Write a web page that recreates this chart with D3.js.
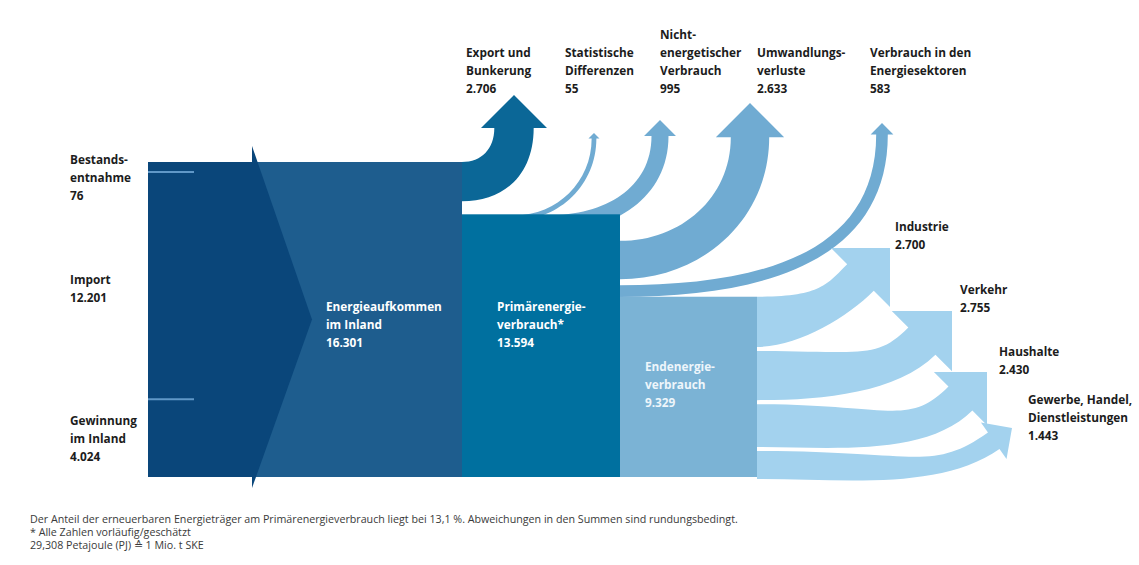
<!DOCTYPE html>
<html><head><meta charset="utf-8">
<script src="https://cdn.jsdelivr.net/npm/d3@7"></script>
<style>
body{margin:0;background:#fff;}
svg{display:block;font-family:"Open Sans","Noto Sans",sans-serif;}
</style></head><body>
<svg id="c" width="1139" height="565"></svg>
<script>
// ---------- DATA ----------
const sources = ["Bestandsentnahme", "Import", "Gewinnung im Inland"];
const sourceValues = [76, 12201, 4024];
const sourceLabels = [["Bestands-", "entnahme", "76"], ["Import", "12.201"], ["Gewinnung", "im Inland", "4.024"]];

const stages = ["Energieaufkommen im Inland", "Primärenergieverbrauch*", "Endenergieverbrauch"];
const stageValues = [16301, 13594, 9329];
const stageLabels = [["Energieaufkommen", "im Inland", "16.301"], ["Primärenergie-", "verbrauch*", "13.594"], ["Endenergie-", "verbrauch", "9.329"]];

const exportCategory = "Export und Bunkerung";
const exportValue = 2706;

const losses = ["Statistische Differenzen", "Nichtenergetischer Verbrauch", "Umwandlungsverluste", "Verbrauch in den Energiesektoren"];
const lossValues = [55, 995, 2633, 583];

const topLabels = [["Export und", "Bunkerung", "2.706"], ["Statistische", "Differenzen", "55"], ["Nicht-", "energetischer", "Verbrauch", "995"], ["Umwandlungs-", "verluste", "2.633"], ["Verbrauch in den", "Energiesektoren", "583"]];

const sectors = ["Industrie", "Verkehr", "Haushalte", "Gewerbe, Handel, Dienstleistungen"];
const sectorValues = [2700, 2755, 2430, 1443];
const sectorLabels = [["Industrie", "2.700"], ["Verkehr", "2.755"], ["Haushalte", "2.430"], ["Gewerbe, Handel,", "Dienstleistungen", "1.443"]];

const notes = [
  "Der Anteil der erneuerbaren Energieträger am Primärenergieverbrauch liegt bei 13,1 %. Abweichungen in den Summen sind rundungsbedingt.",
  "* Alle Zahlen vorläufig/geschätzt",
  "29,308 Petajoule (PJ) \u2259 1 Mio. t SKE"
];

// ---------- LAYOUT ----------
const X = {src0: 148, src1: 252, apex: 312, auf1: 462, pri1: 620, end1: 757};
const topArrowX = [514, 594, 660, 750, 882];
const topArrowTip = [95, 133, 120, 103, 123];
const topLabelPos = [[466, 57], [565, 57], [660, 39], [757, 57], [870, 57]];
const sectorTips = [[890, 248, 45], [952, 311, 45], [987, 372, 45], [1012, 428, 35]];
const sectorLabelPos = [[895, 231], [960, 294], [999, 356], [1028, 404]];
const sourceLabelPos = [[70, 164], [70, 284], [70, 425]];
const stageLabelPos = [[326, 311], [497, 311], [645, 371]];
const LH = 18;

const col = {navy: "#0a467a", auf: "#1e5d8e", pri: "#00709f", exp: "#0b6797",
  loss: "#70abd2", ende: "#7bb3d5", use: "#a3d2ee", sep: "#6098c8", text: "#1c1c1c"};

const svg = d3.select("#c");
const y = d3.scaleLinear().domain([0, stageValues[0]]).range([477, 162]);
const hgt = v => y(0) - y(v);
const wArrow = d3.scaleLinear().domain([0, 2755]).range([4, 40]);

function arrowPath(x0, yA, yB, Bx, By, theta, w, hw, hl, kaA, kaB, kb) {
  const t = theta * Math.PI / 180;
  const dir = [Math.cos(t), -Math.sin(t)], perp = [Math.sin(t), Math.cos(t)];
  const EA = [Bx - perp[0] * w / 2, By - perp[1] * w / 2];
  const EB = [Bx + perp[0] * w / 2, By + perp[1] * w / 2];
  function ctrl(S, E, ka) {
    const dx = Math.abs(E[0] - S[0]);
    const len = Math.hypot(E[0] - S[0], E[1] - S[1]);
    return [[S[0] + ka * dx, S[1]], [E[0] - dir[0] * kb * len, E[1] - dir[1] * kb * len]];
  }
  const SA = [x0, yA], SB = [x0, yB];
  const [a1, a2] = ctrl(SA, EA, kaA), [b1, b2] = ctrl(SB, EB, kaB);
  const barbA = [Bx - perp[0] * hw, By - perp[1] * hw];
  const barbB = [Bx + perp[0] * hw, By + perp[1] * hw];
  const tip = [Bx + dir[0] * hl, By + dir[1] * hl];
  const p = d3.path();
  p.moveTo(...SA);
  p.bezierCurveTo(...a1, ...a2, ...EA);
  p.lineTo(...barbA); p.lineTo(...tip); p.lineTo(...barbB); p.lineTo(...EB);
  p.bezierCurveTo(...b2, ...b1, ...SB);
  p.closePath();
  return p.toString();
}

const gArrows = svg.append("g");

// Export arrow (from Energieaufkommen top)
{
  const w = wArrow(exportValue), hw = 0.8 * w + 1.5;
  const top = y(stageValues[0]);
  gArrows.append("path").attr("fill", col.exp)
    .attr("d", arrowPath(X.auf1, top, top + w, topArrowX[0], topArrowTip[0] + hw, 90, w, hw, hw, 0.6, 0.6, 0.45));
}

// Loss arrows (from Primärenergieverbrauch)
{
  const pTop = y(stageValues[1]);
  let cum = stageValues[1];
  const slices = lossValues.map(v => { const s = {y0: y(cum), y1: y(cum - v)}; cum -= v; return s; });
  lossValues.forEach((v, i) => {
    const w = wArrow(v), hw = 0.85 * w + 1.5;
    let x0, yA;
    if (i < 2) { // emerge from behind the top edge of the block
      x0 = i === 0 ? 515 : 548;
      yA = pTop + 1;
    } else {
      x0 = X.pri1;
      const c = (slices[i].y0 + slices[i].y1) / 2;
      yA = c - w / 2;
    }
    gArrows.append("path").attr("fill", col.loss)
      .attr("d", arrowPath(x0, yA, yA + w, topArrowX[i + 1], topArrowTip[i + 1] + hw, 90, w, hw, hw, 0.55, 0.55, 0.4));
  });
}

// Sector arrows (from Endenergieverbrauch)
{
  let cum = stageValues[2];
  const items = sectorValues.map((v, i) => { const s = {v, i, y0: y(cum), y1: y(cum - v)}; cum -= v; return s; });
  items.slice().reverse().forEach(s => {
    const w = hgt(s.v) * 0.72, hw = 0.8 * hgt(s.v);
    const [tx, ty, th] = sectorTips[s.i];
    const t = th * Math.PI / 180;
    const Bx = tx - Math.cos(t) * hw, By = ty + Math.sin(t) * hw;
    const gapTop = s.i === 0 ? 0 : 2, gapBot = s.i === 3 ? -2 : 2;
    gArrows.append("path").attr("fill", col.use)
      .attr("d", arrowPath(X.end1, s.y0 + gapTop, s.y1 - gapBot, Bx, By, th, w, hw, hw, 0.7, 0.35, 0.3));
  });
}

// Blocks
const gBlocks = svg.append("g");
const top0 = y(stageValues[0]), bot = y(0);
gBlocks.append("rect").attr("x", X.src0).attr("y", top0).attr("width", X.auf1 - X.src0).attr("height", hgt(stageValues[0])).attr("fill", col.auf);
gBlocks.append("rect").attr("x", X.src0).attr("y", top0).attr("width", X.src1 - X.src0).attr("height", hgt(stageValues[0])).attr("fill", col.navy);
gBlocks.append("path").attr("fill", col.navy)
  .attr("d", `M${X.src1},${top0 - 16}L${X.apex},${(top0 + bot) / 2}L${X.src1},${bot + 11}Z`);
gBlocks.append("rect").attr("x", X.auf1).attr("y", y(stageValues[1])).attr("width", X.pri1 - X.auf1).attr("height", hgt(stageValues[1])).attr("fill", col.pri);
gBlocks.append("rect").attr("x", X.pri1).attr("y", y(stageValues[2])).attr("width", X.end1 - X.pri1).attr("height", hgt(stageValues[2])).attr("fill", col.ende);

// Source separators
{
  let cum = stageValues[0];
  sourceValues.slice(0, -1).forEach((v) => {
    cum -= v;
    const yy = Math.max(y(cum), top0 + 10);
    gBlocks.append("line").attr("x1", X.src0).attr("x2", X.src0 + 46).attr("y1", yy).attr("y2", yy)
      .attr("stroke", col.sep).attr("stroke-width", 2);
  });
}

// Labels
function multiline(lines, x, y0, fill, weight, size) {
  const t = svg.append("text").attr("x", x).attr("y", y0).attr("fill", fill)
    .attr("font-weight", weight).attr("font-size", size);
  lines.forEach((l, i) => t.append("tspan").attr("x", x).attr("y", y0 + i * LH).text(l));
  return t;
}
topLabels.forEach((l, i) => multiline(l, topLabelPos[i][0], topLabelPos[i][1], col.text, 700, 11.8));
sourceLabels.forEach((l, i) => multiline(l, sourceLabelPos[i][0], sourceLabelPos[i][1], col.text, 700, 11.8));
sectorLabels.forEach((l, i) => multiline(l, sectorLabelPos[i][0], sectorLabelPos[i][1], col.text, 700, 11.8));
stageLabels.forEach((l, i) => multiline(l, stageLabelPos[i][0], stageLabelPos[i][1], i === 2 ? "#eef6fb" : "#ffffff", 700, 11.8));

notes.forEach((n, i) => svg.append("text").attr("x", 30).attr("y", 523 + i * 13)
  .attr("font-size", 10.7).attr("fill", "#3a3a3a").text(n));
</script>
</body></html>
